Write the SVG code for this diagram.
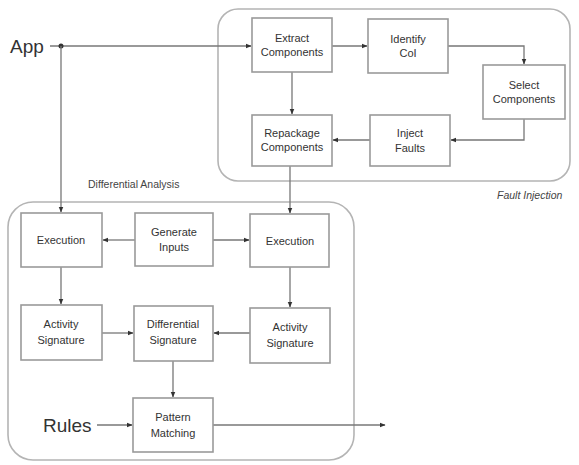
<svg xmlns="http://www.w3.org/2000/svg" width="579" height="465" viewBox="0 0 579 465">
<defs>
<style>
.box{fill:#fff;stroke:#9a9a9a;stroke-width:1.6}
.cont{fill:none;stroke:#b4b4b4;stroke-width:1.6}
.t{font-family:"Liberation Sans",Arial,sans-serif;font-size:11px;fill:#333;text-anchor:middle}
.big{font-family:"Liberation Sans",Arial,sans-serif;font-size:19px;fill:#333}
.lbl{font-family:"Liberation Sans",Arial,sans-serif;font-size:10.5px;fill:#444}
.c{fill:none;stroke:#777;stroke-width:1.3;marker-end:url(#ah)}
.cn{fill:none;stroke:#777;stroke-width:1.3}
</style>
<marker id="ah" viewBox="0 0 10 10" refX="9" refY="5" markerWidth="6" markerHeight="6" orient="auto" markerUnits="userSpaceOnUse">
<path d="M0,1 L10,5 L0,9 z" fill="#333"/>
</marker>
</defs>
<rect width="579" height="465" fill="#fff"/>
<g id="containers">
<rect id="fault-injection" class="cont" x="218" y="9" width="352" height="172" rx="20"/>
<text class="lbl" x="497" y="199" font-style="italic">Fault Injection</text>
<rect id="differential-analysis" class="cont" x="8" y="202" width="346" height="258" rx="25"/>
<text class="lbl" x="88" y="188">Differential Analysis</text>
</g>
<g id="connectors">
<path class="c" d="M50,46 H251"/>
<circle cx="61" cy="46" r="2.5" fill="#333"/>
<path class="c" d="M61,46 V212"/>
<path class="c" d="M332,46 H367"/>
<path class="c" d="M448,46 H524 V64"/>
<path class="c" d="M524,119 V140 H451"/>
<path class="c" d="M370,140 H333"/>
<path class="c" d="M292,72 V114"/>
<path class="c" d="M290,166 V213"/>
<path class="c" d="M135,240 H103"/>
<path class="c" d="M213,240 H249"/>
<path class="c" d="M61,267 V304"/>
<path class="c" d="M290,267 V307"/>
<path class="c" d="M102,333 H133"/>
<path class="c" d="M250,333 H214"/>
<path class="c" d="M173,361 V397"/>
<path class="c" d="M97,425 H132"/>
<path class="c" d="M213,425 H385"/>
</g>
<text class="big" x="10" y="53">App</text>
<text class="big" x="43" y="432">Rules</text>
<g id="extract"><rect class="box" x="252" y="18" width="80" height="54"/><text class="t" x="292" y="42">Extract</text><text class="t" x="292" y="56">Components</text></g>
<g id="identify"><rect class="box" x="368" y="19" width="80" height="54"/><text class="t" x="408" y="43">Identify</text><text class="t" x="408" y="57">CoI</text></g>
<g id="select"><rect class="box" x="483" y="65" width="82" height="54"/><text class="t" x="524" y="89">Select</text><text class="t" x="524" y="103">Components</text></g>
<g id="inject"><rect class="box" x="370" y="115" width="80" height="51"/><text class="t" x="410" y="137">Inject</text><text class="t" x="410" y="152">Faults</text></g>
<g id="repackage"><rect class="box" x="252" y="115" width="80" height="51"/><text class="t" x="292" y="137">Repackage</text><text class="t" x="292" y="151">Components</text></g>
<g id="exec-left"><rect class="box" x="21" y="213" width="81" height="54"/><text class="t" x="61" y="244">Execution</text></g>
<g id="generate"><rect class="box" x="135" y="213" width="78" height="53"/><text class="t" x="174" y="236">Generate</text><text class="t" x="174" y="251">Inputs</text></g>
<g id="exec-right"><rect class="box" x="250" y="214" width="79" height="53"/><text class="t" x="290" y="245">Execution</text></g>
<g id="activity-left"><rect class="box" x="21" y="305" width="81" height="55"/><text class="t" x="61" y="328">Activity</text><text class="t" x="61" y="344">Signature</text></g>
<g id="diff-sig"><rect class="box" x="134" y="306" width="79" height="55"/><text class="t" x="173" y="328">Differential</text><text class="t" x="173" y="344">Signature</text></g>
<g id="activity-right"><rect class="box" x="250" y="308" width="80" height="55"/><text class="t" x="290" y="331">Activity</text><text class="t" x="290" y="347">Signature</text></g>
<g id="pattern"><rect class="box" x="133" y="398" width="80" height="54"/><text class="t" x="173" y="421">Pattern</text><text class="t" x="173" y="437">Matching</text></g>
</svg>
